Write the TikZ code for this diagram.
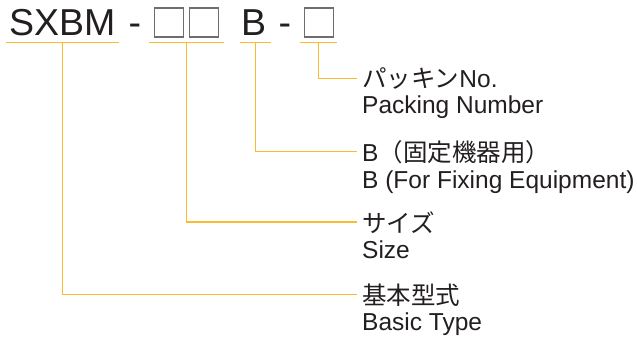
\documentclass[tikz,border=0pt]{standalone}
\usepackage{fontspec}
\setmainfont{Liberation Sans}
\newfontfamily\jp{Noto Sans CJK JP}
\definecolor{leadc}{RGB}{251,186,48}
\definecolor{ink}{RGB}{35,31,32}
\definecolor{slotgray}{RGB}{110,110,110}
\begin{document}
\begin{tikzpicture}[x=1pt,y=-1pt,
  code/.style={font=\fontsize{37.5}{40}\selectfont, text=ink, inner sep=0pt, anchor=base west},
  slot/.style={draw=slotgray, line width=1.3pt, minimum width=29pt, minimum height=29pt, inner sep=0pt, anchor=north west},
  lbl/.style={font=\fontsize{24.5}{28}\selectfont, text=ink, inner sep=0pt, anchor=base west},
  leader/.style={draw=leadc, line width=1.4pt}]
\useasboundingbox[fill=white] (0,0) rectangle (637,340);

% code parts
\node[code] (sxbm) at (9,35) {SXBM};
\node[code] (dashA) at (128.5,35) {-};
\node[slot] (s1) at (154,7.3) {};
\node[slot] (s2) at (188.5,7.3) {};
\node[code] (bpart) at (241,35) {B};
\node[code] (dashB) at (278.5,35) {-};
\node[slot] (s3) at (303.5,7.3) {};

% labels
\node[lbl] (pkj) at (362,87.5) {{\jp パッキン}No.};
\node[lbl] (pke) at (362,113.7) {Packing Number};
\node[lbl] (fxj) at (362,161) {B{\jp （固定機器用）}};
\node[lbl] (fxe) at (362,188) {B (For Fixing Equipment)};
\node[lbl] (szj) at (362,232) {\jp サイズ};
\node[lbl] (sze) at (362,258.3) {Size};
\node[lbl] (btj) at (362,304) {\jp 基本型式};
\node[lbl] (bte) at (362,330.5) {Basic Type};

% underline coordinates
\coordinate (u1a) at (6,42.5);   \coordinate (u1b) at (119,42.5);  \coordinate (u1) at (62.5,42.5);
\coordinate (u2a) at (149,42.5); \coordinate (u2b) at (224,42.5);  \coordinate (u2) at (186.5,42.5);
\coordinate (u3a) at (240,42.5); \coordinate (u3b) at (271,42.5);  \coordinate (u3) at (255.5,42.5);
\coordinate (u4a) at (300,42.5); \coordinate (u4b) at (337,42.5);  \coordinate (u4) at (318.5,42.5);

% leaders
\draw[leader] (u1a) -- (u1b) (u1) |- ([xshift=-5.3pt]btj.west);
\draw[leader] (u2a) -- (u2b) (u2) |- ([xshift=-5.3pt]szj.west);
\draw[leader] (u3a) -- (u3b) (u3) |- ([xshift=-5.3pt]fxj.west);
\draw[leader] (u4a) -- (u4b) (u4) |- ([xshift=-5.3pt]pkj.west);
\end{tikzpicture}
\end{document}
